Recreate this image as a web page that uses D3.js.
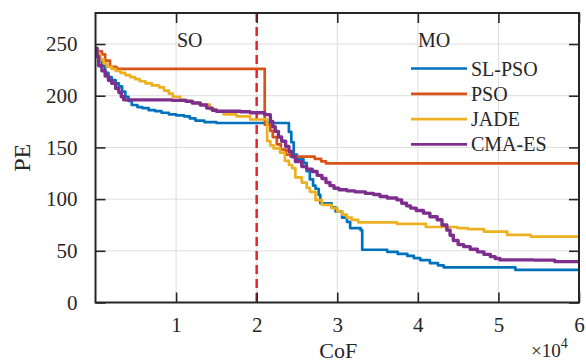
<!DOCTYPE html>
<html>
<head>
<meta charset="utf-8">
<script src="https://cdn.jsdelivr.net/npm/d3@7"></script>
<style>
  html, body { margin: 0; padding: 0; background: #fff; }
  svg text { font-family: "Liberation Serif", "DejaVu Serif", serif; fill: #262626; }
</style>
</head>
<body>
<div id="container"></div>
<script>
// CoF values are in units of 10^4, PE on the y axis
const seriesNames = ["SL-PSO", "PSO", "JADE", "CMA-ES"];
const seriesColors = ["#0072BD", "#D95319", "#EDB120", "#7E2F8E"];

const slpso = [[0,245],[0.02,240],[0.05,235],[0.08,229],[0.12,222],[0.16,218],[0.2,215],[0.25,212],[0.29,209],
  [0.33,204],[0.37,199],[0.41,195],[0.45,191],[0.52,189],[0.58,188],[0.66,186],[0.74,185],[0.82,183.5],[0.91,182],
  [1.0,181],[1.1,180],[1.17,178],[1.24,176],[1.35,174.5],[1.5,173.6],[2.4,165],[2.43,155],[2.46,143],[2.5,139],
  [2.58,135],[2.62,127],[2.66,119],[2.7,113],[2.73,110],[2.77,104],[2.79,96],[2.93,92],[2.98,88],[3.06,82],
  [3.12,78],[3.16,72],[3.29,70],[3.31,51],[3.62,49],[3.75,47],[3.87,45],[3.95,43],[4.03,41],[4.15,38],[4.25,36],
  [4.32,34],[5.21,31.5],[6,31.5]];

const pso = [[0,243],[0.08,240],[0.12,234],[0.18,228],[0.26,226],[2.1,172],[2.17,166],[2.2,160],[2.25,153],
  [2.3,148],[2.36,143],[2.42,141],[2.72,139],[2.8,136.5],[2.86,134.5],[6,134.5]];

const jade = [[0,245],[0.03,240],[0.06,235],[0.1,231],[0.14,228],[0.2,226],[0.25,224],[0.31,222],[0.37,220],
  [0.43,218],[0.49,216],[0.55,214],[0.62,212],[0.7,210],[0.79,208],[0.85,205],[0.91,202],[0.96,199],[1.05,196],
  [1.13,194.6],[1.21,193],[1.3,191.4],[1.42,187],[1.5,185],[1.59,182],[1.75,180],[1.92,177],[2.13,156],[2.17,152],
  [2.21,149],[2.29,145],[2.35,137],[2.4,133],[2.44,130],[2.48,121],[2.56,116],[2.62,111],[2.66,107],[2.73,99],
  [2.81,94.5],[2.93,91.3],[3.0,88],[3.06,85],[3.12,82],[3.18,80],[3.26,77.5],[3.74,76],[4.1,73],[4.49,72],
  [4.62,71],[4.82,68.6],[5.11,65.4],[5.4,63.8],[6,63.8]];

const cmaes = [[0,246],[0.02,238],[0.04,229],[0.08,224],[0.12,219],[0.16,215],[0.2,212],[0.25,207],[0.29,203],
  [0.32,199],[0.35,196],[0.95,195.5],[1.12,194.6],[1.2,193],[1.3,191],[1.38,188],[1.45,186],[1.5,185],[1.8,184.5],
  [1.92,183.5],[2.1,181.7],[2.17,175],[2.2,170],[2.23,165.5],[2.27,160],[2.31,156],[2.36,151],[2.4,146],[2.44,141],
  [2.48,136.4],[2.56,131.6],[2.62,129],[2.69,126.7],[2.75,123],[2.81,120],[2.86,116],[2.91,113],[2.96,110.5],
  [3.02,109],[3.12,108],[3.22,107],[3.35,105.5],[3.45,104.5],[3.53,102.5],[3.62,101],[3.74,99.3],[3.8,96],
  [3.86,93.5],[3.91,91.3],[3.98,89],[4.07,86.4],[4.15,83],[4.24,80],[4.3,75],[4.36,70],[4.4,65],[4.44,60],
  [4.5,56],[4.57,54],[4.65,51.5],[4.74,49],[4.82,46.5],[4.9,44.4],[4.96,42.5],[5.02,41.2],[5.44,41],[5.7,39.5],[6,38]];

const xTicks = [1, 2, 3, 4, 5, 6];
const yTicks = [0, 50, 100, 150, 200, 250];
const switchAt = 2; // SO -> MO boundary

const W = 586, H = 362;
const mLeft = 95.5, mRight = 579, mTop = 13, mBottom = 302.5;

const x = d3.scaleLinear().domain([0, 6]).range([mLeft, mRight]);
const y = d3.scaleLinear().domain([0, 280]).range([mBottom, mTop]);

const svg = d3.select("#container").append("svg")
    .attr("width", W)
    .attr("height", H);

// grid
svg.append("g")
    .attr("stroke", "#dedede")
    .attr("stroke-width", 1)
    .selectAll("line")
    .data(xTicks.slice(0, -1))
    .join("line")
    .attr("x1", d => x(d)).attr("x2", d => x(d))
    .attr("y1", mTop).attr("y2", mBottom);
svg.append("g")
    .attr("stroke", "#dedede")
    .attr("stroke-width", 1)
    .selectAll("line")
    .data(yTicks.slice(1))
    .join("line")
    .attr("x1", mLeft).attr("x2", mRight)
    .attr("y1", d => y(d)).attr("y2", d => y(d));

// boundary
svg.append("line")
    .attr("x1", x(switchAt)).attr("x2", x(switchAt))
    .attr("y1", mTop).attr("y2", mBottom)
    .attr("stroke", "#e0262b")
    .attr("stroke-width", 2.5)
    .attr("stroke-dasharray", "9,5");

const data = [slpso, pso, jade, cmaes];
const line = d3.line()
    .x(d => x(d[0]))
    .y(d => y(d[1]))
    .curve(d3.curveStepAfter);

svg.append("clipPath").attr("id", "clip")
    .append("rect").attr("x", mLeft).attr("y", mTop)
    .attr("width", mRight - mLeft).attr("height", mBottom - mTop);

svg.append("g")
    .attr("clip-path", "url(#clip)")
    .selectAll("path")
    .data(data)
    .join("path")
    .attr("fill", "none")
    .attr("stroke", (d, i) => seriesColors[i])
    .attr("stroke-width", (d, i) => i === 3 ? 3.4 : 2.7)
    .attr("stroke-linejoin", "round")
    .attr("d", line);

// axes, matlab box style (ticks inward on all four sides)
const tickLen = 10;
const axisColor = "#262626";
const xAxisB = d3.axisBottom(x).tickValues(xTicks).tickSize(-tickLen).tickPadding(15).tickFormat(d3.format("d"));
const xAxisT = d3.axisTop(x).tickValues(xTicks).tickSize(-tickLen).tickFormat("");
const yAxisL = d3.axisLeft(y).tickValues(yTicks).tickSize(-tickLen).tickPadding(18);
const yAxisR = d3.axisRight(y).tickValues(yTicks).tickSize(-tickLen).tickFormat("");

function styleAxis(g) {
    g.select(".domain").remove();
    g.selectAll(".tick line").attr("stroke", axisColor).attr("stroke-width", 1.6);
    g.selectAll(".tick text").attr("font-size", 21).attr("font-family", null).attr("fill", axisColor);
}
svg.append("g").attr("transform", `translate(0,${mBottom})`).call(xAxisB).call(styleAxis);
svg.append("g").attr("transform", `translate(0,${mTop})`).call(xAxisT).call(styleAxis);
svg.append("g").attr("transform", `translate(${mLeft},0)`).call(yAxisL).call(styleAxis);
svg.append("g").attr("transform", `translate(${mRight},0)`).call(yAxisR).call(styleAxis);

svg.append("rect")
    .attr("x", mLeft).attr("y", mTop)
    .attr("width", mRight - mLeft).attr("height", mBottom - mTop)
    .attr("fill", "none")
    .attr("stroke", axisColor)
    .attr("stroke-width", 2);

// labels
svg.append("text")
    .attr("transform", `translate(30,${(mTop + mBottom) / 2}) rotate(-90)`)
    .attr("text-anchor", "middle")
    .attr("font-size", 24)
    .text("PE");
svg.append("text")
    .attr("x", (mLeft + mRight) / 2 + 1)
    .attr("y", 358)
    .attr("text-anchor", "middle")
    .attr("font-size", 22)
    .text("CoF");
const mult = svg.append("text")
    .attr("x", 531)
    .attr("y", 357)
    .attr("font-size", 19);
mult.append("tspan").text("×10");
mult.append("tspan").attr("dy", -9).attr("font-size", 14).text("4");

svg.append("text").attr("x", 177).attr("y", 46.5).attr("font-size", 20).text("SO");
svg.append("text").attr("x", 418).attr("y", 46.5).attr("font-size", 20).text("MO");

// legend
const legend = svg.append("g")
    .selectAll("g")
    .data(seriesNames)
    .join("g")
    .attr("transform", (d, i) => `translate(411,${68.5 + i * 25.3})`);
legend.append("line")
    .attr("x1", 0).attr("x2", 56)
    .attr("stroke", (d, i) => seriesColors[i])
    .attr("stroke-width", 2.7);
legend.append("text")
    .attr("x", 60)
    .attr("dy", "0.35em")
    .attr("font-size", 20)
    .text(d => d);
</script>
</body>
</html>
